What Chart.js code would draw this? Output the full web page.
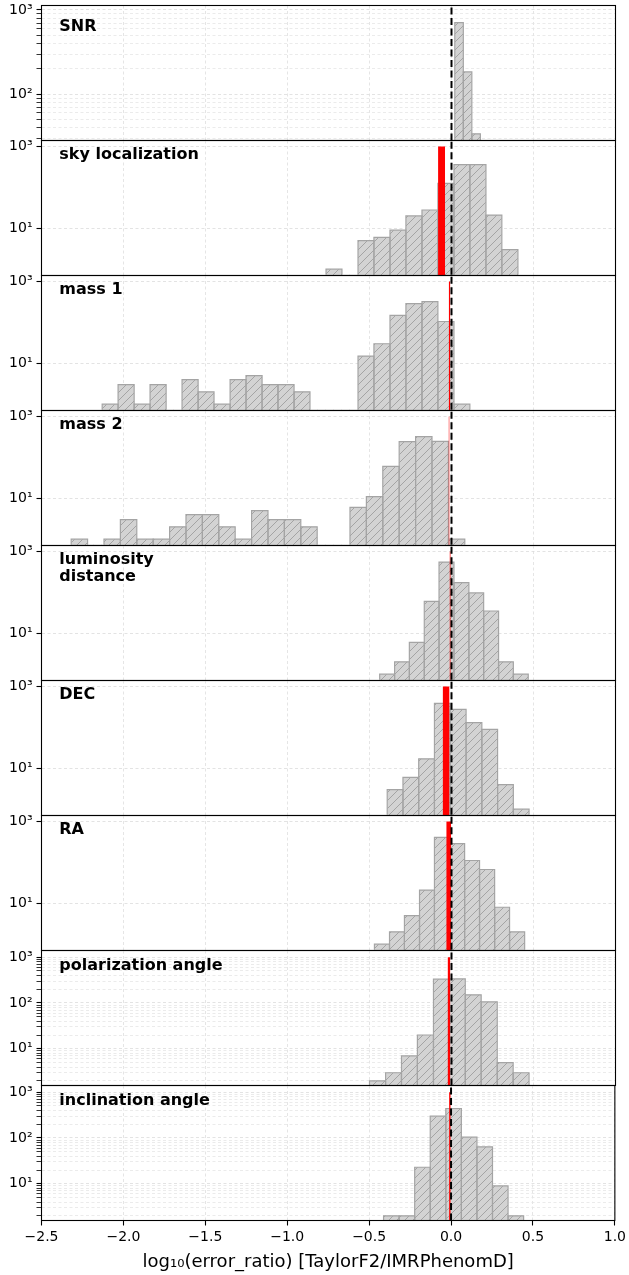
<!DOCTYPE html>
<html>
<head>
<meta charset="utf-8">
<script src="https://cdn.jsdelivr.net/npm/chart.js@4.4.0/dist/chart.umd.min.js"></script>
<style>
  html, body { margin: 0; padding: 0; background: #fff; }
  #wrap { position: relative; width: 629px; height: 1275px; overflow: hidden; }
  #wrap canvas { position: absolute; left: 0; }
</style>
</head>
<body>
<div id="wrap"></div>
<script>
// ---------- data ----------
const panelLabels = ["SNR", "sky localization", "mass 1", "mass 2", ["luminosity", "distance"],
                     "DEC", "RA", "polarization angle", "inclination angle"];

// histogram bin edges (log10 error ratio) and counts
const snrEdges = [0.020, 0.072, 0.124, 0.176];
const snrCounts = [708, 184, 34];

const skyEdges = [-0.765, -0.668, -0.570, -0.473, -0.375, -0.278, -0.180, -0.083, 0.015, 0.112, 0.210, 0.307, 0.405];
const skyCounts = [1, 0, 5, 6, 9, 20, 28, 125, 360, 360, 21, 3];

const mass1Edges = [-2.130, -2.033, -1.935, -1.838, -1.740, -1.643, -1.545, -1.448, -1.350, -1.253, -1.155, -1.058,
                    -0.960, -0.863, -0.765, -0.668, -0.570, -0.473, -0.375, -0.278, -0.180, -0.083, 0.015, 0.112];
const mass1Counts = [1, 3, 1, 3, 0, 4, 2, 1, 4, 5, 3, 3, 2, 0, 0, 0, 15, 30, 149, 287, 320, 105, 1];

const mass2Edges = [-2.319, -2.219, -2.119, -2.019, -1.919, -1.819, -1.719, -1.619, -1.519, -1.419, -1.319, -1.219,
                    -1.119, -1.019, -0.919, -0.819, -0.719, -0.619, -0.519, -0.419, -0.319, -0.219, -0.119, -0.019, 0.081];
const mass2Counts = [1, 0, 1, 3, 1, 1, 2, 4, 4, 2, 1, 5, 3, 3, 2, 0, 0, 6, 11, 60, 243, 320, 247, 1];

const distEdges = [-0.438, -0.347, -0.257, -0.166, -0.076, 0.015, 0.106, 0.196, 0.287, 0.377, 0.468];
const distCounts = [1, 2, 6, 60, 551, 173, 97, 35, 2, 1];

const decEdges = [-0.392, -0.296, -0.200, -0.104, -0.008, 0.089, 0.185, 0.281, 0.377, 0.473];
const decCounts = [3, 6, 17, 386, 276, 131, 89, 4, 1];

const raEdges = [-0.470, -0.378, -0.287, -0.195, -0.104, -0.012, 0.080, 0.171, 0.263, 0.354, 0.446];
const raCounts = [1, 2, 5, 21, 408, 287, 111, 67, 8, 2];

const polEdges = [-0.500, -0.402, -0.305, -0.208, -0.110, -0.013, 0.084, 0.181, 0.279, 0.376, 0.473];
const polCounts = [2, 3, 7, 20, 331, 336, 151, 106, 5, 3];

const incEdges = [-0.412, -0.317, -0.222, -0.127, -0.032, 0.063, 0.158, 0.253, 0.348, 0.443];
const incCounts = [2, 2, 23, 299, 441, 104, 64, 9, 2];

// red marker spans [left, right], drawn from the bottom up to redTop
const redSpans = [null, [-0.082, -0.039], [-0.017, -0.007], [-0.018, -0.012], [-0.012, -0.005],
                  [-0.054, -0.012], [-0.032, -0.002], [-0.024, -0.007], [-0.012, -0.002]];
const redTop = 1000;

// axes
const yMins = [28.3, 0.733, 0.733, 0.733, 0.733, 0.733, 0.733, 1.58, 1.58];
const yMaxs = [1130, 1400, 1400, 1400, 1400, 1400, 1400, 1400, 1400];
const yMajorTicks = [[100, 1000], [10, 1000], [10, 1000], [10, 1000], [10, 1000], [10, 1000], [10, 1000],
                     [10, 100, 1000], [10, 100, 1000]];
const fineMinors = [2, 3, 4, 5, 6, 7, 8, 9, 20, 30, 40, 50, 60, 70, 80, 90, 200, 300, 400, 500, 600, 700, 800, 900];
const yMinorTicks = [[30, 40, 50, 60, 70, 80, 90, 200, 300, 400, 500, 600, 700, 800, 900], [], [], [], [], [], [],
                     fineMinors, fineMinors];
const yLabelValues = [10, 100, 1000];
const yLabelTexts = ["10\u00b9", "10\u00b2", "10\u00b3"];
const xTicks = [-2.5, -2.0, -1.5, -1.0, -0.5, 0.0, 0.5, 1.0];
const xTickLabels = ["\u22122.5", "\u22122.0", "\u22121.5", "\u22121.0", "\u22120.5", "0.0", "0.5", "1.0"];
const xTitle = "log\u2081\u2080(error_ratio) [TaylorF2/IMRPhenomD]";

const histEdges = [snrEdges, skyEdges, mass1Edges, mass2Edges, distEdges, decEdges, raEdges, polEdges, incEdges];
const histCounts = [snrCounts, skyCounts, mass1Counts, mass2Counts, distCounts, decCounts, raCounts, polCounts, incCounts];

// ---------- layout ----------
const W = 629, H = 1275;
const plotLeft = 41.5, plotRight = 615.5;
const panelH = 135, firstTop = 5.5, margin = 20;
const labelBaselines = [25.2, 18, 18, 18, 18.5, 18.5, 18.5, 19.5, 19.5];

Chart.defaults.font.family = "'DejaVu Sans', sans-serif";
Chart.defaults.color = "#000";

function makeHatch() {
    const c = document.createElement("canvas");
    c.width = 8; c.height = 8;
    const g = c.getContext("2d");
    g.fillStyle = "#d3d3d3";
    g.fillRect(0, 0, 8, 8);
    g.strokeStyle = "#a4a4a4";
    g.lineWidth = 1;
    g.beginPath();
    g.moveTo(-2, 10); g.lineTo(10, -2);
    g.moveTo(-2, 2); g.lineTo(2, -2);
    g.moveTo(6, 10); g.lineTo(10, 6);
    g.stroke();
    return g.createPattern(c, "repeat");
}
const hatch = makeHatch();

// outline of a histogram: every bar goes up from the bottom and back down
function histPoints(edges, counts, ymin) {
    const pts = [];
    counts.forEach((n, i) => {
        if (n <= 0) return;
        pts.push({x: edges[i], y: ymin}, {x: edges[i], y: n}, {x: edges[i + 1], y: n}, {x: edges[i + 1], y: ymin});
    });
    return pts;
}

const panelPlugin = {
    id: "panel",
    afterDatasetsDraw(chart, args, opts) {
        const {ctx, chartArea: a} = chart;
        ctx.save();
        ctx.fillStyle = "#000";
        ctx.font = "bold 16px 'DejaVu Sans'";
        ctx.textBaseline = "alphabetic";
        [].concat(opts.label).forEach((t, k) => ctx.fillText(t, a.left + 17.8, a.top + opts.baseline + k * 16.5));
        ctx.strokeStyle = "#000";
        ctx.lineWidth = 1.1;
        ctx.strokeRect(a.left, a.top, a.right - a.left, a.bottom - a.top);
        ctx.restore();
    }
};

const wrap = document.getElementById("wrap");

for (let p = 0; p < 9; p++) {
    const isLast = p === 8;
    const top = firstTop + p * panelH;
    const canvasTop = Math.floor(top) - margin;
    const padTop = top - canvasTop;
    const axisH = H - (top + panelH);
    const canvasH = isLast ? H - canvasTop : Math.ceil(padTop + panelH + margin);

    const canvas = document.createElement("canvas");
    canvas.width = W; canvas.height = canvasH;
    canvas.style.top = canvasTop + "px";
    canvas.style.width = W + "px"; canvas.style.height = canvasH + "px";
    wrap.appendChild(canvas);

    const ymin = yMins[p], ymax = yMaxs[p];
    const majors = yMajorTicks[p];
    const allTicks = majors.concat(yMinorTicks[p]).sort((a, b) => a - b);

    const datasets = [{
        data: [{x: 0, y: ymin}, {x: 0, y: ymax}],
        borderColor: "#000", borderWidth: 2, borderDash: [7, 3.5],
        pointRadius: 0, fill: false
    }];
    if (redSpans[p]) {
        const [a, b] = redSpans[p];
        datasets.push({
            data: [{x: a, y: ymin}, {x: a, y: redTop}, {x: b, y: redTop}, {x: b, y: ymin}],
            borderWidth: 0, borderColor: "rgba(0,0,0,0)", backgroundColor: "#ff0000",
            pointRadius: 0, fill: "start"
        });
    }
    datasets.push({
        data: histPoints(histEdges[p], histCounts[p], ymin),
        borderColor: "#a4a4a4", borderWidth: 1.2, backgroundColor: hatch,
        pointRadius: 0, fill: "start",
        // no outline along the bottom between separated bars
        segment: {
            borderColor: c => (c.p0.parsed.y === ymin && c.p1.parsed.y === ymin) ? "rgba(0,0,0,0)" : undefined
        }
    });

    new Chart(canvas, {
        type: "line",
        data: {datasets},
        plugins: [panelPlugin],
        options: {
            responsive: false,
            animation: false,
            devicePixelRatio: 1,
            events: [],
            layout: {padding: {top: padTop, bottom: isLast ? 0 : canvasH - padTop - panelH, left: 0, right: W - plotRight}},
            plugins: {
                legend: {display: false},
                tooltip: {enabled: false},
                panel: {label: panelLabels[p], baseline: labelBaselines[p]}
            },
            scales: {
                x: {
                    type: "linear", min: -2.5, max: 1.0,
                    afterBuildTicks: s => { s.ticks = xTicks.map(v => ({value: v})); },
                    afterFit: s => { s.height = isLast ? axisH : 0; },
                    ticks: {
                        display: isLast, autoSkip: false, maxRotation: 0, padding: 3,
                        font: {size: 14}, color: "#000",
                        callback: (v, i) => xTickLabels[i]
                    },
                    grid: {color: "#dedede", lineWidth: 0.8, drawTicks: isLast, tickColor: "#000", tickLength: 5, tickWidth: 1.1},
                    border: {display: false, dash: [3, 2.5]},
                    title: {display: isLast, text: xTitle, font: {size: 18}, color: "#000", padding: {top: 0, bottom: 2}}
                },
                y: {
                    type: "logarithmic", min: ymin, max: ymax,
                    afterBuildTicks: s => { s.ticks = allTicks.map(v => ({value: v, major: majors.includes(v)})); },
                    afterFit: s => { s.width = plotLeft; },
                    ticks: {
                        autoSkip: false, padding: 4, font: {size: 14}, color: "#000",
                        callback: v => {
                            const k = yLabelValues.indexOf(v);
                            return k >= 0 && majors.includes(v) ? yLabelTexts[k] : "";
                        }
                    },
                    grid: {
                        color: c => (c.tick && c.tick.major) ? "#dcdcdc" : "#e6e6e6",
                        lineWidth: 0.8, tickColor: "#000", tickLength: 5,
                        tickWidth: c => (c.tick && c.tick.major) ? 1.1 : 0.8
                    },
                    border: {display: false, dash: [3, 2.5]}
                }
            }
        }
    });
}
</script>
</body>
</html>
